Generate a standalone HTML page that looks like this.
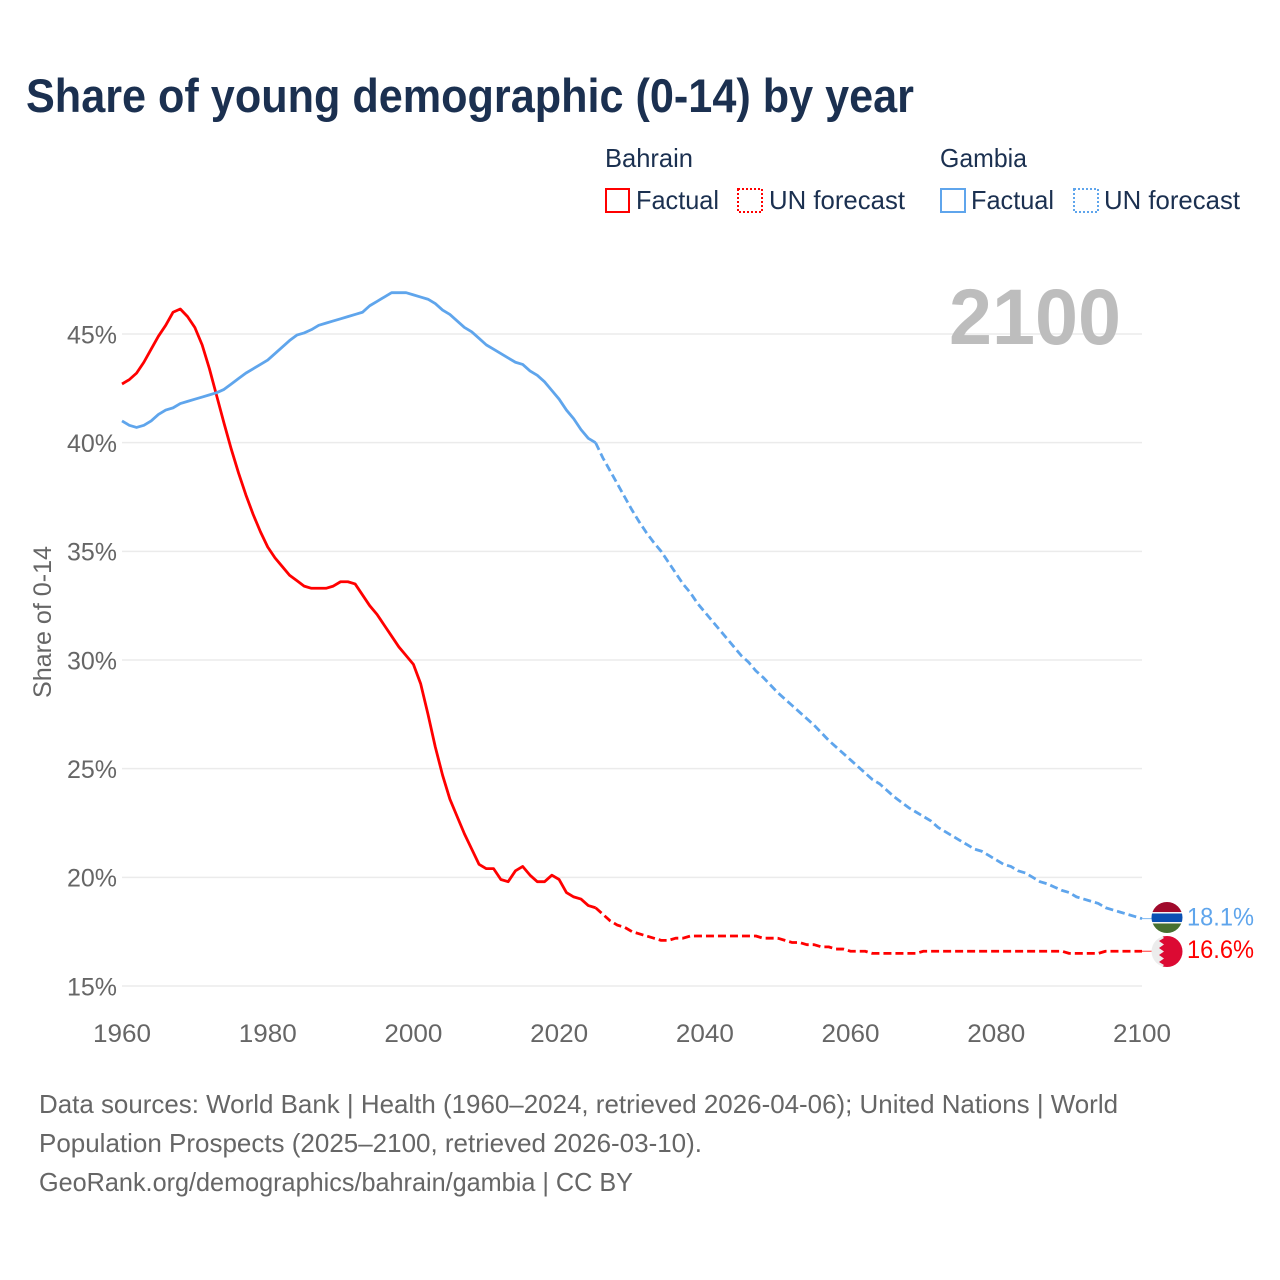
<!DOCTYPE html>
<html lang="en">
<head>
<meta charset="utf-8">
<title>Share of young demographic (0-14) by year</title>
<style>
  html, body { margin: 0; padding: 0; background: #fff; }
  svg { display: block; }
  text { font-family: "Liberation Sans", sans-serif; }
</style>
</head>
<body>
<svg id="chart" xmlns="http://www.w3.org/2000/svg" width="1280" height="1280" viewBox="0 0 1280 1280">
  <rect x="0" y="0" width="1280" height="1280" fill="#ffffff"/>
  <text x="26" y="112" font-size="47" font-weight="700" fill="#1b3050" textLength="888" lengthAdjust="spacingAndGlyphs">Share of young demographic (0-14) by year</text>

  <g font-size="26" fill="#1b3050">
    <text x="605" y="167" textLength="88" lengthAdjust="spacingAndGlyphs">Bahrain</text>
    <rect x="606" y="189" width="23" height="23" fill="none" stroke="#ff0000" stroke-width="2" shape-rendering="crispEdges"/>
    <text x="636" y="209" textLength="83" lengthAdjust="spacingAndGlyphs">Factual</text>
    <rect x="738" y="189" width="24" height="23" fill="none" stroke="#ff0000" stroke-width="2" stroke-dasharray="2 2" shape-rendering="crispEdges"/>
    <text x="769" y="209" textLength="136" lengthAdjust="spacingAndGlyphs">UN forecast</text>
    <text x="940" y="167" textLength="87" lengthAdjust="spacingAndGlyphs">Gambia</text>
    <rect x="941" y="189" width="24" height="23" fill="none" stroke="#5fa5ec" stroke-width="2" shape-rendering="crispEdges"/>
    <text x="971" y="209" textLength="83" lengthAdjust="spacingAndGlyphs">Factual</text>
    <rect x="1074" y="189" width="24" height="23" fill="none" stroke="#5fa5ec" stroke-width="2" stroke-dasharray="2 2" shape-rendering="crispEdges"/>
    <text x="1104" y="209" textLength="136" lengthAdjust="spacingAndGlyphs">UN forecast</text>
  </g>

  <g id="grid"></g>
  <g id="yticks" font-size="25" fill="#666666"></g>
  <g id="xticks" font-size="25" fill="#666666"></g>
  <text transform="translate(51 622) rotate(-90)" text-anchor="middle" font-size="25" fill="#666666" textLength="152" lengthAdjust="spacingAndGlyphs">Share of 0-14</text>
  <text id="year-label" x="949" y="344" font-size="79" font-weight="700" fill="#bdbdbd" textLength="172" lengthAdjust="spacingAndGlyphs">2100</text>
  <g id="series"></g>

  <defs>
    <clipPath id="clip-gambia"><circle cx="1167" cy="917.500" r="15.500"/></clipPath>
    <clipPath id="clip-bahrain"><circle cx="1167" cy="951.500" r="15.500"/></clipPath>
  </defs>
  <g clip-path="url(#clip-gambia)">
    <rect x="1151" y="902" width="32" height="10" fill="#a00a2c"/>
    <rect x="1151" y="912" width="32" height="1.500" fill="#f4f4f4"/>
    <rect x="1151" y="913.500" width="32" height="8.500" fill="#0a50b4"/>
    <rect x="1151" y="922" width="32" height="1.500" fill="#f4f4f4"/>
    <rect x="1151" y="923.500" width="32" height="10" fill="#477030"/>
  </g>
  <g clip-path="url(#clip-bahrain)">
    <rect x="1151" y="935" width="32" height="33" fill="#ececec"/>
    <polygon points="1183,935 1161,935 1164,938 1159,941 1164,944.500 1159,948 1164,951.500 1159,955 1164,958.500 1159,962 1164,965 1161,968 1183,968" fill="#dc0a33"/>
  </g>
  <g id="end-labels" font-size="25"></g>

  <g font-size="26" fill="#666666">
    <text x="39" y="1113" textLength="1079" lengthAdjust="spacingAndGlyphs">Data sources: World Bank | Health (1960–2024, retrieved 2026-04-06); United Nations | World</text>
    <text x="39" y="1152" textLength="663" lengthAdjust="spacingAndGlyphs">Population Prospects (2025–2100, retrieved 2026-03-10).</text>
    <text x="39" y="1191" textLength="594" lengthAdjust="spacingAndGlyphs">GeoRank.org/demographics/bahrain/gambia | CC BY</text>
  </g>
</svg>

<script>
const yTickValues = [15, 20, 25, 30, 35, 40, 45];
const xTickValues = [1960, 1980, 2000, 2020, 2040, 2060, 2080, 2100];
const firstYear = 1960;
const lastFactualYear = 2025;

const bahrainValues = [
  42.7, 42.9, 43.2, 43.7, 44.3, 44.9, 45.4, 46.0, 46.15, 45.8,
  45.3, 44.5, 43.4, 42.15, 40.9, 39.7, 38.6, 37.6, 36.7, 35.9,
  35.2, 34.7, 34.3, 33.9, 33.65, 33.4, 33.3, 33.3, 33.3, 33.4,
  33.6, 33.6, 33.5, 33.0, 32.5, 32.1, 31.6, 31.1, 30.6, 30.2,
  29.8, 28.9, 27.5, 26.0, 24.7, 23.6, 22.8, 22.0, 21.3, 20.6,
  20.4, 20.4, 19.9, 19.8, 20.3, 20.5, 20.1, 19.8, 19.8, 20.1,
  19.9, 19.3, 19.1, 19.0, 18.7, 18.6,
  18.3, 18.0, 17.8, 17.7, 17.5, 17.4, 17.3, 17.2, 17.1,
  17.1, 17.2, 17.2, 17.3, 17.3, 17.3, 17.3, 17.3, 17.3, 17.3,
  17.3, 17.3, 17.3, 17.2, 17.2, 17.2, 17.1, 17.0, 17.0, 16.9,
  16.9, 16.8, 16.8, 16.7, 16.7, 16.6, 16.6, 16.6, 16.5, 16.5,
  16.5, 16.5, 16.5, 16.5, 16.5, 16.6, 16.6, 16.6, 16.6, 16.6,
  16.6, 16.6, 16.6, 16.6, 16.6, 16.6, 16.6, 16.6, 16.6, 16.6,
  16.6, 16.6, 16.6, 16.6, 16.6, 16.5, 16.5, 16.5, 16.5, 16.5,
  16.6, 16.6, 16.6, 16.6, 16.6, 16.6
];

const gambiaValues = [
  41.0, 40.8, 40.7, 40.8, 41.0, 41.3, 41.5, 41.6, 41.8, 41.9,
  42.0, 42.1, 42.2, 42.3, 42.45, 42.7, 42.95, 43.2, 43.4, 43.6,
  43.8, 44.1, 44.4, 44.7, 44.95, 45.05, 45.2, 45.4, 45.5, 45.6,
  45.7, 45.8, 45.9, 46.0, 46.3, 46.5, 46.7, 46.9, 46.9, 46.9,
  46.8, 46.7, 46.6, 46.4, 46.1, 45.9, 45.6, 45.3, 45.1, 44.8,
  44.5, 44.3, 44.1, 43.9, 43.7, 43.6, 43.3, 43.1, 42.8, 42.4,
  42.0, 41.5, 41.1, 40.6, 40.2, 40.0,
  39.3, 38.7, 38.1, 37.5, 36.9, 36.35, 35.85, 35.4, 35.0,
  34.5, 34.0, 33.5, 33.1, 32.6, 32.2, 31.8, 31.4, 31.0, 30.6,
  30.2, 29.9, 29.5, 29.2, 28.85, 28.5, 28.2, 27.9, 27.6, 27.3,
  27.0, 26.65, 26.3, 26.0, 25.7, 25.4, 25.1, 24.8, 24.5, 24.3,
  24.0, 23.7, 23.45, 23.2, 23.0, 22.8, 22.6, 22.3, 22.1, 21.9,
  21.7, 21.5, 21.3, 21.2, 21.0, 20.8, 20.6, 20.5, 20.3, 20.2,
  20.0, 19.8, 19.7, 19.55, 19.4, 19.3, 19.1, 19.0, 18.9, 18.8,
  18.6, 18.5, 18.4, 18.3, 18.2, 18.1
];

const SVG_NS = 'http://www.w3.org/2000/svg';
const RED = '#ff0000';
const BLUE = '#5fa5ec';

function xScale(year) { return 122 + (year - 1960) * (1020 / 140); }
function yScale(value) { return 986 - (value - 15) * (652 / 30); }

function pathFor(values, fromYear, toYear) {
  const parts = [];
  for (let yr = fromYear; yr <= toYear; yr++) {
    const v = values[yr - firstYear];
    parts.push((parts.length ? 'L' : 'M') + xScale(yr).toFixed(2) + ' ' + yScale(v).toFixed(2));
  }
  return parts.join(' ');
}

function make(tag, attrs, parent, txt) {
  const el = document.createElementNS(SVG_NS, tag);
  for (const k in attrs) { el.setAttribute(k, attrs[k]); }
  if (txt !== undefined) { el.textContent = txt; }
  parent.appendChild(el);
  return el;
}

const gridLayer = document.getElementById('grid');
const yLayer = document.getElementById('yticks');
const xLayer = document.getElementById('xticks');
const seriesLayer = document.getElementById('series');
const endLayer = document.getElementById('end-labels');

yTickValues.forEach(function (t) {
  const line = make('line', { x1: 122, x2: 1142, y1: yScale(t), y2: yScale(t), stroke: '#ebebeb', 'stroke-width': 1.5 }, gridLayer);
  
  
  const label = make('text', { x: 117, y: yScale(t) + 9.3, 'text-anchor': 'end' }, yLayer, t + '%');
  
  
});

xTickValues.forEach(function (t) {
  const label = make('text', { x: xScale(t), y: 1042, 'text-anchor': 'middle', textLength: 58, lengthAdjust: 'spacingAndGlyphs' }, xLayer, String(t));
  
  
});

function drawSeries(key, values, color) {
  const endYear = firstYear + values.length - 1;
  const base = { fill: 'none', stroke: color, 'stroke-width': 2.8, 'stroke-linejoin': 'round' };

  const factual = make('path', Object.assign({ d: pathFor(values, firstYear, lastFactualYear) }, base), seriesLayer);
  
  

  const forecast = make('path', Object.assign({ d: pathFor(values, lastFactualYear, endYear), 'stroke-dasharray': '8 4' }, base), seriesLayer);
  
  

  const lastY = yScale(values[values.length - 1]);
  const connector = make('line', { x1: xScale(endYear), x2: 1152, y1: lastY, y2: lastY, stroke: color, 'stroke-width': 1, opacity: 0.8 }, seriesLayer);
  
  

  const label = make('text', { x: 1187, y: lastY + 7, fill: color, textLength: 67, lengthAdjust: 'spacingAndGlyphs' }, endLayer, values[values.length - 1].toFixed(1) + '%');
  
  
}

drawSeries('bahrain', bahrainValues, RED);
drawSeries('gambia', gambiaValues, BLUE);
</script>
</body>
</html>
